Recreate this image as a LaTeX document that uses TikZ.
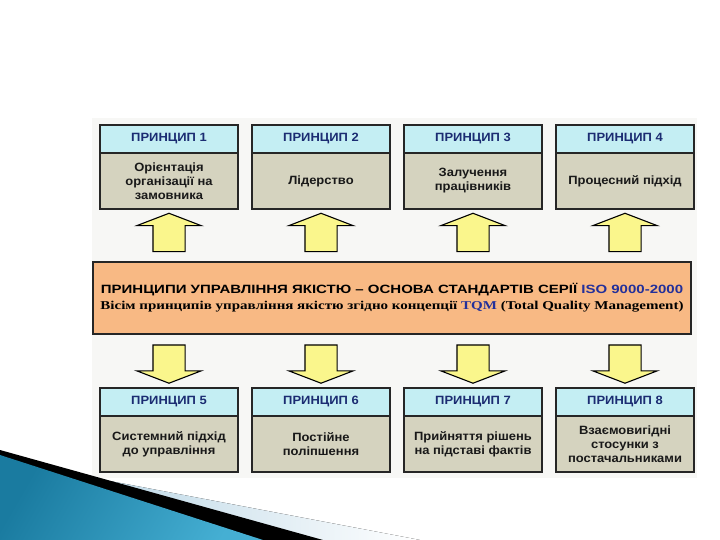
\documentclass[tikz,border=0pt]{standalone}
\usepackage{fontspec}
\setmainfont{Liberation Sans}
\newfontfamily\boxfont[FakeStretch=1.08]{Liberation Sans}
\newfontfamily\widesans[FakeStretch=1.25]{Liberation Sans}
\newfontfamily\wideserif[FakeStretch=1.25]{Liberation Serif}
\usepackage{tikz}
\usetikzlibrary{positioning,calc,shapes.arrows}
\definecolor{hdrcyan}{HTML}{C4EEF3}
\definecolor{bodykhaki}{HTML}{D5D3BF}
\definecolor{coreorange}{HTML}{F8B984}
\definecolor{arrowyellow}{HTML}{FAF68C}
\definecolor{navy}{HTML}{1B2C72}
\definecolor{isoblue}{HTML}{23309A}
\definecolor{panelgray}{HTML}{F7F7F5}
\definecolor{swooshdark}{HTML}{1A7BA0}
\definecolor{swooshlight}{HTML}{45AFD3}
\definecolor{paleline}{HTML}{A9CCDF}
\tikzset{
  hdr/.style  ={draw=black!85,line width=1.5pt,fill=hdrcyan,minimum width=138pt,
                minimum height=28pt,inner sep=0pt,outer sep=0pt,align=center,
                font=\boxfont\fontsize{12}{13}\selectfont\bfseries,text=navy},
  body/.style ={draw=black!85,line width=1.5pt,fill=bodykhaki,minimum width=138pt,
                minimum height=56pt,inner sep=0pt,outer sep=0pt,align=center,
                font=\boxfont\fontsize{12}{14}\selectfont\bfseries,text=black!90},
  core/.style ={draw=black!85,line width=1.5pt,fill=coreorange,minimum width=598pt,
                minimum height=72pt,inner sep=0pt,outer sep=0pt,align=center,
                font=\fontsize{12}{16}\selectfont\bfseries},
  bigarrow/.style={single arrow,draw=black,line width=1.1pt,fill=arrowyellow,
                inner sep=15.5pt,outer sep=0pt,single arrow head extend=16pt,
                single arrow tip angle=138,minimum height=38pt}
}
\begin{document}
\begin{tikzpicture}[x=1pt,y=-1pt,node distance=14pt]
  \useasboundingbox[fill=white] (0,0) rectangle (720,540);
  \fill[panelgray] (92,118) rectangle (697,478);
  % swoosh, bottom left
  \fill[left color=paleline,right color=white] (110,481) -- (420,540) -- (0,540) -- cycle;
  \fill[black] (0,450) -- (323,540) -- (0,540) -- cycle;
  \shade[left color=swooshdark,right color=swooshlight,shading angle=60]
        (0,455) -- (263,540) -- (0,540) -- cycle;

  \node[hdr] (h1) at (169,139) {ПРИНЦИП 1};
  \node[hdr,right=of h1] (h2) {ПРИНЦИП 2};
  \node[hdr,right=of h2] (h3) {ПРИНЦИП 3};
  \node[hdr,right=of h3] (h4) {ПРИНЦИП 4};
  \node[body,below=0pt of h1] (b1) {Орієнтація\\організації на\\замовника};
  \node[body,below=0pt of h2] (b2) {Лідерство};
  \node[body,below=0pt of h3] (b3) {Залучення\\працівників};
  \node[body,below=0pt of h4] (b4) {Процесний підхід};

  \node[core] (core) at (392,298) {%
    {\widesans ПРИНЦИПИ УПРАВЛІННЯ ЯКІСТЮ – ОСНОВА СТАНДАРТІВ СЕРІЇ
     \textcolor{isoblue}{ISO 9000-2000}}\\
    {\wideserif Вісім принципів управління якістю згідно концепції
     \textcolor{isoblue}{TQM} (Total Quality Management)}\\[-12pt]\mbox{}};

  \node[hdr] (h5) at (169,402) {ПРИНЦИП 5};
  \node[hdr,right=of h5] (h6) {ПРИНЦИП 6};
  \node[hdr,right=of h6] (h7) {ПРИНЦИП 7};
  \node[hdr,right=of h7] (h8) {ПРИНЦИП 8};
  \node[body,below=0pt of h5] (b5) {Системний підхід\\до управління};
  \node[body,below=0pt of h6] (b6) {Постійне\\поліпшення};
  \node[body,below=0pt of h7] (b7) {Прийняття рішень\\на підставі фактів};
  \node[body,below=0pt of h8] (b8) {Взаємовигідні\\стосунки з\\постачальниками};

  \node[bigarrow,shape border rotate=90] (u1) at ($(b1.south)!.5!(b1.south |- core.north)$) {};
  \node[bigarrow,shape border rotate=90] (u2) at ($(b2.south)!.5!(b2.south |- core.north)$) {};
  \node[bigarrow,shape border rotate=90] (u3) at ($(b3.south)!.5!(b3.south |- core.north)$) {};
  \node[bigarrow,shape border rotate=90] (u4) at ($(b4.south)!.5!(b4.south |- core.north)$) {};
  \node[bigarrow,shape border rotate=270] (d5) at ($(h5.north)!.5!(h5.north |- core.south)$) {};
  \node[bigarrow,shape border rotate=270] (d6) at ($(h6.north)!.5!(h6.north |- core.south)$) {};
  \node[bigarrow,shape border rotate=270] (d7) at ($(h7.north)!.5!(h7.north |- core.south)$) {};
  \node[bigarrow,shape border rotate=270] (d8) at ($(h8.north)!.5!(h8.north |- core.south)$) {};
\end{tikzpicture}
\end{document}
